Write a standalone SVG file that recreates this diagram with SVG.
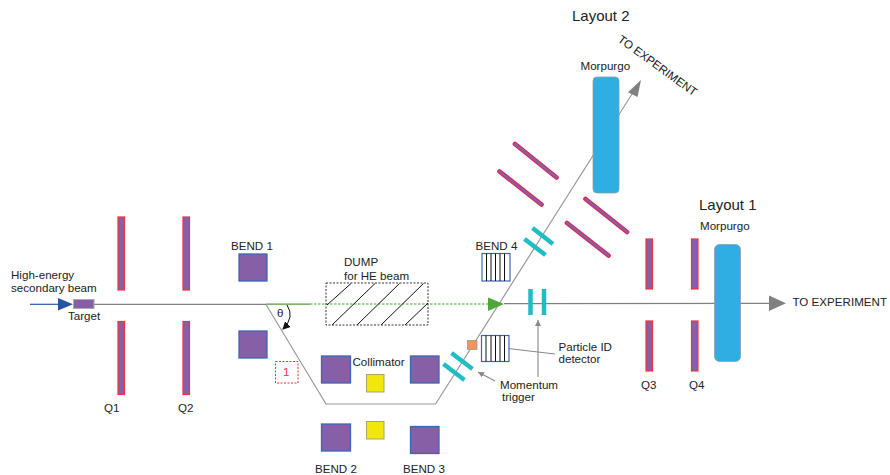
<svg xmlns="http://www.w3.org/2000/svg" width="890" height="475" viewBox="0 0 890 475">
<defs>
<style>
text{font-family:"Liberation Sans",Arial,sans-serif;font-size:11.6px;fill:#222}
.q{fill:#875fa6;stroke:#f0323c;stroke-width:1.2}
.b{fill:#875fa6;stroke:#3c66b4;stroke-width:1.3}
.y{fill:#f2e60c;stroke:#a8a860;stroke-width:1}
.t{stroke:#1fbdc4;stroke-width:4.5;fill:none}
.d{stroke:#e5234b;stroke-width:4.6;fill:none;stroke-linecap:round}
.di{stroke:#875fa6;stroke-width:2.4;fill:none;stroke-linecap:round}
.m{fill:#2eaee2;stroke:#8aa0aa;stroke-width:.8}
.h{fill:#fff;stroke:#3c66b4;stroke-width:1.2}
.v{stroke:#111;stroke-width:1;fill:none}
.g{stroke:#999;stroke-width:1.2;fill:none}
.c{stroke:#888;stroke-width:1.1;fill:none}
</style>
<marker id="ag" markerUnits="userSpaceOnUse" markerWidth="7" markerHeight="7" refX="6" refY="3" orient="auto"><path d="M0 0L6 3L0 6z" fill="#888"/></marker>
<marker id="ak" markerUnits="userSpaceOnUse" markerWidth="9" markerHeight="9" refX="7" refY="4" orient="auto"><path d="M0 0L8 4L0 8z" fill="#111"/></marker>
</defs>
<g id="connectors">
<path d="M94 304.300H266" stroke="#808080" stroke-width="1.2" fill="none"/>
<path d="M504 303.600L770 303.300" stroke="#808080" stroke-width="1.2" fill="none"/>
<path d="M30 304.300H60" stroke="#2a55a8" stroke-width="1.2" fill="none"/>
<path d="M58 298L73 304.300L58 310.500z" fill="#2453a8"/>
<path d="M266 304.200H310" stroke="#4f9e3a" stroke-width="1.2" fill="none"/>
<path d="M310 304H490" stroke="#3fae2c" stroke-width="1.100" stroke-dasharray="2.500 1.500" fill="none"/>
<path d="M266 304.500L326 404H435.600L632 94" class="g"/>
<path d="M488 297.500L504 304L488 311z" fill="#4fa63a"/>
<path d="M769 295.500L786 303.300L769 311z" fill="#808080"/>
<path d="M641 80L637.500 97L628 92.300z" fill="#808080"/>
<path d="M287 305Q295 317 283 329" fill="none" stroke="#111" stroke-width="1" marker-end="url(#ak)"/>
<path d="M555 354L487 346" class="c" marker-end="url(#ag)"/>
<path d="M538 377V320" class="c" marker-end="url(#ag)"/>
<path d="M495 381L478 372" class="c" marker-end="url(#ag)"/>
</g>
<g id="target"><rect x="73.500" y="299.500" width="20.500" height="9" fill="#875fa6" stroke="#aaa"/><text x="68" y="320">Target</text></g>
<g id="beam-label"><text x="11" y="279">High-energy</text><text x="11" y="292">secondary beam</text></g>
<g id="q1"><rect class="q" x="118" y="217" width="6.500" height="73"/><rect class="q" x="118" y="321.500" width="6.500" height="73"/><text x="104" y="412">Q1</text></g>
<g id="q2"><rect class="q" x="183" y="217" width="6.500" height="73"/><rect class="q" x="183" y="321.500" width="6.500" height="73"/><text x="178" y="412">Q2</text></g>
<g id="bend1"><rect class="b" x="239" y="254" width="28" height="27"/><rect class="b" x="239" y="331" width="28" height="27"/><text x="231" y="250">BEND 1</text></g>
<g id="theta"><text x="277" y="317">θ</text></g>
<g id="box1"><rect x="275.500" y="361.500" width="22.500" height="21.500" fill="#fff" stroke="#f0323c" stroke-width="1" stroke-dasharray="2 1.500"/><text x="283" y="376" style="fill:#f0323c">1</text></g>
<g id="dump"><rect x="326" y="283" width="102" height="42" fill="none" stroke="#333" stroke-width="1" stroke-dasharray="2 1.500"/>
<path class="v" d="M327 305L351 283.500M332 325L375 283.500M357 325L399.500 283.500M381 325L423.500 283.500M405 325L428 303"/>
<text x="344" y="266">DUMP</text><text x="344" y="280">for HE beam</text></g>
<g id="bend2"><rect class="b" x="321.500" y="356" width="29" height="27"/><rect class="b" x="321.500" y="424" width="29" height="27"/><text x="315" y="473">BEND 2</text></g>
<g id="collimator"><rect class="y" x="366.500" y="374.500" width="17.500" height="17.500"/><rect class="y" x="366.500" y="421.500" width="17.500" height="17.500"/><text x="352.500" y="366">Collimator</text></g>
<g id="bend3"><rect class="b" x="410.500" y="356" width="28.500" height="27"/><rect class="b" x="410.500" y="426.500" width="28.500" height="27"/><text x="403" y="473">BEND 3</text></g>
<g id="trigger"><path class="t" d="M451.500 353L472.500 369M443.500 364L464.500 380"/><text x="500" y="389">Momentum</text><text x="502" y="401">trigger</text></g>
<g id="orange"><rect x="467.500" y="340.500" width="9.500" height="9" fill="#f4935a" stroke="#999" stroke-width=".8"/></g>
<g id="pid"><rect class="h" x="481.500" y="335.500" width="27.500" height="26"/><path class="v" d="M486 335.500V361.500M491 335.500V361.500M495.500 335.500V361.500M500 335.500V361.500M504.500 335.500V361.500"/><text x="558.500" y="351">Particle ID</text><text x="558.500" y="363">detector</text></g>
<g id="bend4"><rect class="h" x="482" y="253.500" width="28" height="27.500"/><path class="v" d="M486.500 253.500V281M491 253.500V281M495.500 253.500V281M500 253.500V281M504.500 253.500V281"/><text x="475.500" y="250">BEND 4</text></g>
<g id="teal-h"><path class="t" d="M530.500 289V315M544 289V315"/></g>
<g id="teal-d"><path class="t" d="M532.500 228L553 244M524.500 239L545.500 255"/></g>
<g id="q-diag"><path class="d" d="M515 144L556.500 177.500M499.500 171.500L541.500 204.500M585.500 199L627 232M567 223L608.500 255.500"/><path class="di" d="M515 144L556.500 177.500M499.500 171.500L541.500 204.500M585.500 199L627 232M567 223L608.500 255.500"/></g>
<g id="morpurgo2"><rect class="m" x="593" y="77" width="26" height="116" rx="4"/><text x="580.500" y="70">Morpurgo</text></g>
<g id="layout2"><text x="572" y="21" style="font-size:15px">Layout 2</text>
<text transform="translate(617 41) rotate(36)">TO EXPERIMENT</text></g>
<g id="q3"><rect class="q" x="646" y="239" width="6.500" height="50"/><rect class="q" x="646" y="321" width="6.500" height="50"/><text x="641" y="389">Q3</text></g>
<g id="q4"><rect class="q" x="691.500" y="239" width="6.500" height="50"/><rect class="q" x="691.500" y="321" width="6.500" height="50"/><text x="689" y="389">Q4</text></g>
<g id="morpurgo1"><rect class="m" x="714.500" y="244.500" width="26" height="117" rx="5"/><text x="700" y="230">Morpurgo</text></g>
<g id="layout1"><text x="699" y="210" style="font-size:15px">Layout 1</text></g>
<g id="exp1"><text x="792.500" y="306">TO EXPERIMENT</text></g>
</svg>
